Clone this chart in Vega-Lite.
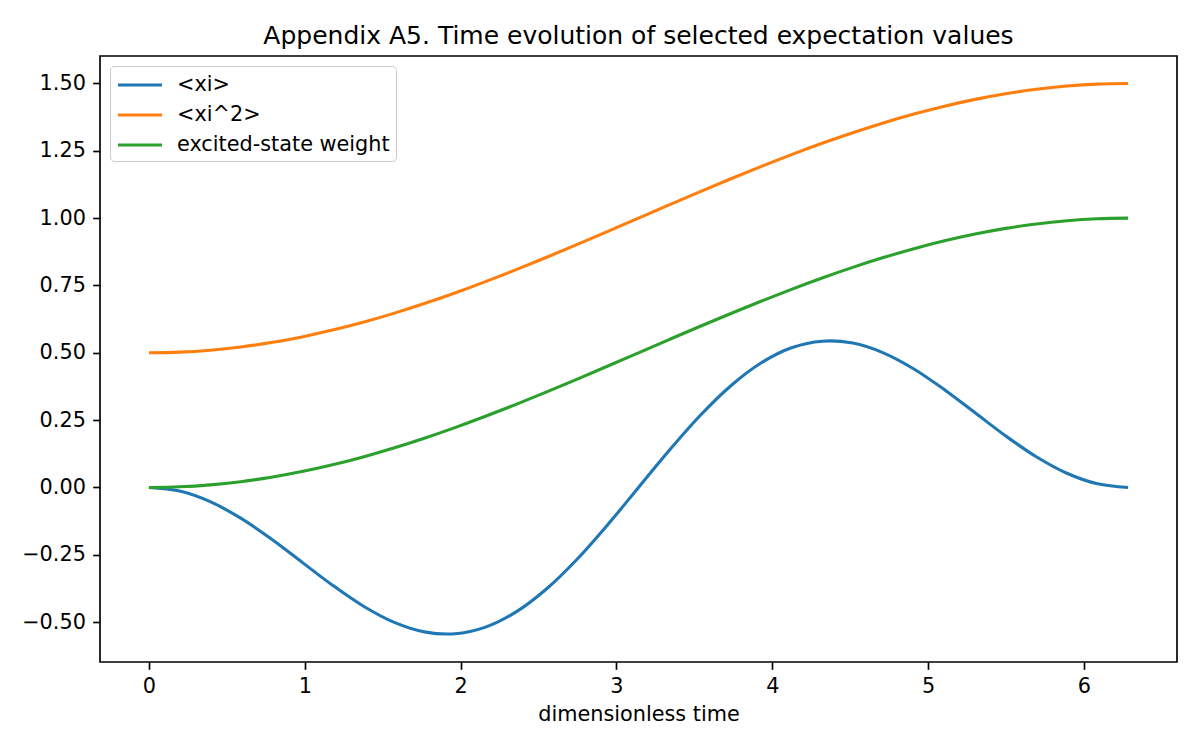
{
  "$schema": "https://vega.github.io/schema/vega-lite/v6.json",
  "width": 1077,
  "height": 606,
  "autosize": "none",
  "padding": {"left": 100, "top": 56, "right": 23, "bottom": 88},
  "background": "white",
  "title": {
    "text": "Appendix A5. Time evolution of selected expectation values",
    "font": "DejaVu Sans",
    "fontSize": 25,
    "fontWeight": "normal",
    "color": "black",
    "anchor": "middle",
    "frame": "group",
    "baseline": "bottom",
    "offset": -18
  },
  "data": {
    "values": [
      {"t": 0.0, "xi": 0.0, "xi2": 0.5, "w": 0.0},
      {"t": 0.19635, "xi": -0.01352, "xi2": 0.50241, "w": 0.00241},
      {"t": 0.3927, "xi": -0.05279, "xi2": 0.50961, "w": 0.00961},
      {"t": 0.58905, "xi": -0.11404, "xi2": 0.52153, "w": 0.02153},
      {"t": 0.7854, "xi": -0.19134, "xi2": 0.53806, "w": 0.03806},
      {"t": 0.98175, "xi": -0.27716, "xi2": 0.55904, "w": 0.05904},
      {"t": 1.1781, "xi": -0.36295, "xi2": 0.58427, "w": 0.08427},
      {"t": 1.37445, "xi": -0.43997, "xi2": 0.6135, "w": 0.1135},
      {"t": 1.5708, "xi": -0.5, "xi2": 0.64645, "w": 0.14645},
      {"t": 1.76715, "xi": -0.5361, "xi2": 0.6828, "w": 0.1828},
      {"t": 1.9635, "xi": -0.54319, "xi2": 0.72221, "w": 0.22221},
      {"t": 2.15984, "xi": -0.51852, "xi2": 0.7643, "w": 0.2643},
      {"t": 2.35619, "xi": -0.46194, "xi2": 0.80866, "w": 0.30866},
      {"t": 2.55254, "xi": -0.37593, "xi2": 0.85486, "w": 0.35486},
      {"t": 2.74889, "xi": -0.2654, "xi2": 0.90245, "w": 0.40245},
      {"t": 2.94524, "xi": -0.13729, "xi2": 0.95099, "w": 0.45099},
      {"t": 3.14159, "xi": 0.0, "xi2": 1.0, "w": 0.5},
      {"t": 3.33794, "xi": 0.13729, "xi2": 1.04901, "w": 0.54901},
      {"t": 3.53429, "xi": 0.2654, "xi2": 1.09755, "w": 0.59755},
      {"t": 3.73064, "xi": 0.37593, "xi2": 1.14514, "w": 0.64514},
      {"t": 3.92699, "xi": 0.46194, "xi2": 1.19134, "w": 0.69134},
      {"t": 4.12334, "xi": 0.51852, "xi2": 1.2357, "w": 0.7357},
      {"t": 4.31969, "xi": 0.54319, "xi2": 1.27779, "w": 0.77779},
      {"t": 4.51604, "xi": 0.5361, "xi2": 1.3172, "w": 0.8172},
      {"t": 4.71239, "xi": 0.5, "xi2": 1.35355, "w": 0.85355},
      {"t": 4.90874, "xi": 0.43997, "xi2": 1.3865, "w": 0.8865},
      {"t": 5.10509, "xi": 0.36295, "xi2": 1.41573, "w": 0.91573},
      {"t": 5.30144, "xi": 0.27716, "xi2": 1.44096, "w": 0.94096},
      {"t": 5.49779, "xi": 0.19134, "xi2": 1.46194, "w": 0.96194},
      {"t": 5.69414, "xi": 0.11404, "xi2": 1.47847, "w": 0.97847},
      {"t": 5.89049, "xi": 0.05279, "xi2": 1.49039, "w": 0.99039},
      {"t": 6.08684, "xi": 0.01352, "xi2": 1.49759, "w": 0.99759},
      {"t": 6.28319, "xi": 0.0, "xi2": 1.5, "w": 1.0}
    ]
  },
  "transform": [
    {"fold": ["xi", "xi2", "w"], "as": ["series", "value"]}
  ],
  "mark": {"type": "line", "strokeWidth": 3.1, "interpolate": "catmull-rom", "clip": true},
  "encoding": {
    "x": {
      "field": "t",
      "type": "quantitative",
      "scale": {"domain": [-0.314, 6.597], "nice": false, "zero": false},
      "axis": {"title": "dimensionless time", "values": [0, 1, 2, 3, 4, 5, 6], "format": "d"}
    },
    "y": {
      "field": "value",
      "type": "quantitative",
      "scale": {"domain": [-0.648, 1.602], "nice": false, "zero": false},
      "axis": {"title": null, "values": [-0.5, -0.25, 0, 0.25, 0.5, 0.75, 1, 1.25, 1.5], "format": ".2f"}
    },
    "color": {
      "field": "series",
      "type": "nominal",
      "sort": ["xi", "xi2", "w"],
      "scale": {"domain": ["xi", "xi2", "w"], "range": ["#1f77b4", "#ff7f0e", "#2ca02c"]},
      "legend": {
        "title": null,
        "orient": "top-left",
        "labelExpr": "datum.value == 'xi' ? '<xi>' : datum.value == 'xi2' ? '<xi^2>' : 'excited-state weight'"
      }
    }
  },
  "config": {
    "view": {"stroke": "black", "strokeWidth": 1.67},
    "axis": {
      "grid": false,
      "domain": false,
      "ticks": true,
      "tickColor": "black",
      "tickWidth": 1.67,
      "tickSize": 7.3,
      "labelPadding": 7.3,
      "labelFont": "DejaVu Sans",
      "labelFontSize": 20.8,
      "labelColor": "black",
      "titleFont": "DejaVu Sans",
      "titleFontSize": 20.8,
      "titleFontWeight": "normal",
      "titleColor": "black",
      "titlePadding": 8
    },
    "legend": {
      "offset": 10,
      "padding": 6,
      "fillColor": "rgba(255,255,255,0.8)",
      "strokeColor": "#cccccc",
      "cornerRadius": 4,
      "labelFont": "DejaVu Sans",
      "labelFontSize": 20.8,
      "labelColor": "black",
      "labelLimit": 400,
      "symbolType": "M-2,0H2",
      "symbolStrokeWidth": 3.1,
      "symbolSize": 484,
      "symbolOffset": 11,
      "labelOffset": 24,
      "rowPadding": 7
    }
  }
}
